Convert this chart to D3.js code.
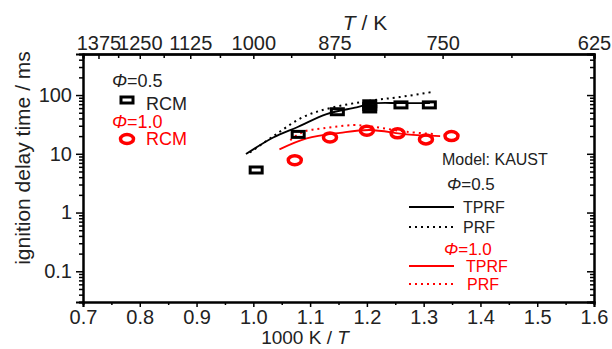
<!DOCTYPE html>
<html lang="en">
<head>
<meta charset="UTF-8">
<title>Ignition delay time vs 1000/T</title>
<style>
    body { margin: 0; background: #fff; }
    svg { display: block; }
    text { font-family: "Liberation Sans Narrow", "Liberation Sans", Arial, sans-serif; fill: #222; }
    .axis line, .axis path { stroke: #000; }
    .red { fill: #ff0000; }
</style>
</head>
<body>
<svg id="chart" width="612" height="349"></svg>
<script src="https://d3js.org/d3.v7.min.js"></script>
<script>
    // bottom axis: 1000 K / T
    const xTicks = [0.7, 0.8, 0.9, 1.0, 1.1, 1.2, 1.3, 1.4, 1.5, 1.6];
    // top axis: T / K
    const tTicks = [1375, 1250, 1125, 1000, 875, 750, 625];
    const tMinor = [1312.5, 1187.5, 1062.5, 937.5, 812.5, 687.5];
    const yTicks = [0.1, 1, 10, 100];

    // RCM measurements (three overlapping points near 1.2 give the solid block)
    const rcm05X = [1.005, 1.079, 1.148, 1.205, 1.205, 1.205, 1.260, 1.310];
    const rcm05Y = [5.3, 21.4, 52, 71, 64, 58, 68, 68];
    const rcm10X = [1.073, 1.135, 1.200, 1.254, 1.304, 1.349];
    const rcm10Y = [7.8, 19, 24.7, 22.3, 17.6, 20];

    // KAUST model
    const tprf05X = [0.987, 1.035, 1.079, 1.129, 1.182, 1.211, 1.258, 1.311];
    const tprf05Y = [9.9, 19, 28.9, 47.5, 61.8, 72, 73, 73];
    const prf05X = [0.994, 1.038, 1.087, 1.135, 1.205, 1.258, 1.316];
    const prf05Y = [10.5, 20.8, 42, 60, 80, 92.5, 113];
    const tprf10X = [1.046, 1.094, 1.153, 1.205, 1.270, 1.329];
    const tprf10Y = [11.9, 18.3, 22.8, 25.4, 21.4, 20];
    const prf10X = [1.065, 1.088, 1.123, 1.176, 1.211, 1.270, 1.317];
    const prf10Y = [17.1, 23.7, 27.1, 30.8, 28.9, 23.7, 21.7];

    const svg = d3.select("#chart");
    const mLeft = 83, mRight = 594, mTop = 54, mBottom = 302;

    const x = d3.scaleLinear().domain([0.7, 1.6]).range([mLeft, mRight]);
    const y = d3.scaleLog().domain([0.03, 500]).range([mBottom, mTop]);

    // minor log ticks
    const yMinor = [];
    [0.01, 0.1, 1, 10, 100].forEach(d => {
        for (let k = 2; k <= 9; k++) {
            const v = d * k;
            if (v >= 0.03 && v <= 500) yMinor.push(v);
        }
    });
    const xMinor = xTicks.slice(0, -1).map(d => d + 0.05);

    // left axis (ticks outward)
    svg.append("g").attr("class", "axis")
        .attr("transform", `translate(${mLeft},0)`)
        .call(d3.axisLeft(y).tickValues(yMinor).tickSize(4).tickFormat(""));
    svg.append("g").attr("class", "axis")
        .attr("transform", `translate(${mLeft},0)`)
        .call(d3.axisLeft(y).tickValues(yTicks).tickSize(7).tickPadding(4)
            .tickFormat(d => d3.format("~g")(d)));
    // right axis (ticks inward)
    svg.append("g").attr("class", "axis")
        .attr("transform", `translate(${mRight},0)`)
        .call(d3.axisLeft(y).tickValues(yMinor).tickSize(4).tickFormat(""));
    svg.append("g").attr("class", "axis")
        .attr("transform", `translate(${mRight},0)`)
        .call(d3.axisLeft(y).tickValues(yTicks).tickSize(7).tickFormat(""));

    // bottom axis
    svg.append("g").attr("class", "axis")
        .attr("transform", `translate(0,${mBottom})`)
        .call(d3.axisBottom(x).tickValues(xMinor).tickSize(3).tickFormat(""));
    svg.append("g").attr("class", "axis")
        .attr("transform", `translate(0,${mBottom})`)
        .call(d3.axisBottom(x).tickValues(xTicks).tickSize(5).tickPadding(3)
            .tickFormat(d3.format(".1f")));

    // top axis, temperature positioned at 1000/T
    svg.append("g").attr("class", "axis")
        .attr("transform", `translate(0,${mTop})`)
        .call(d3.axisBottom(x).tickValues(tMinor.map(t => 1000 / t)).tickSize(4).tickFormat(""));
    svg.append("g").attr("class", "axis")
        .attr("transform", `translate(0,${mTop})`)
        .call(d3.axisTop(x).tickValues(tTicks.map(t => 1000 / t)).tickSize(0).tickPadding(4)
            .tickFormat((d, i) => tTicks[i]));
    svg.append("g").attr("class", "axis")
        .attr("transform", `translate(0,${mTop})`)
        .call(d3.axisBottom(x).tickValues(tTicks.map(t => 1000 / t)).tickSize(5).tickFormat(""));

    svg.selectAll(".axis path").attr("stroke-width", 2);
    svg.selectAll(".axis line").attr("stroke-width", 1.5);
    svg.selectAll(".axis text").attr("font-size", 20)
        .attr("font-family", '"Liberation Sans Narrow", "Liberation Sans", Arial, sans-serif')
        .attr("fill", "#222");

    // axis titles
    svg.append("text").attr("x", 305).attr("y", 344).attr("text-anchor", "middle")
        .attr("font-size", 19).html('1000 K / <tspan font-style="italic">T</tspan>');
    svg.append("text").attr("x", 365).attr("y", 30).attr("text-anchor", "middle")
        .attr("font-size", 21).html('<tspan font-style="italic">T</tspan> / K');
    svg.append("text").attr("transform", "translate(30,158) rotate(-90)")
        .attr("text-anchor", "middle").attr("font-size", 21)
        .text("ignition delay time / ms");

    // model lines
    const line = d3.line().x(d => x(d[0])).y(d => y(d[1])).curve(d3.curveCatmullRom);
    const zip = (a, b) => a.map((v, i) => [v, b[i]]);
    const plot = svg.append("g");
    plot.append("path").attr("d", line(zip(tprf05X, tprf05Y)))
        .attr("fill", "none").attr("stroke", "#000").attr("stroke-width", 1.8);
    plot.append("path").attr("d", line(zip(prf05X, prf05Y)))
        .attr("fill", "none").attr("stroke", "#000").attr("stroke-width", 2)
        .attr("stroke-dasharray", "2,4");
    plot.append("path").attr("d", line(zip(tprf10X, tprf10Y)))
        .attr("fill", "none").attr("stroke", "#ff0000").attr("stroke-width", 1.8);
    plot.append("path").attr("d", line(zip(prf10X, prf10Y)))
        .attr("fill", "none").attr("stroke", "#ff0000").attr("stroke-width", 2)
        .attr("stroke-dasharray", "2,4");

    // markers
    plot.selectAll(".sq").data(zip(rcm05X, rcm05Y)).join("rect")
        .attr("x", d => x(d[0]) - 6).attr("y", d => y(d[1]) - 3)
        .attr("width", 12).attr("height", 6)
        .attr("fill", "none").attr("stroke", "#000").attr("stroke-width", 3);
    plot.selectAll(".ci").data(zip(rcm10X, rcm10Y)).join("ellipse")
        .attr("cx", d => x(d[0])).attr("cy", d => y(d[1]))
        .attr("rx", 6.5).attr("ry", 4.5)
        .attr("fill", "none").attr("stroke", "#ff0000").attr("stroke-width", 3.5);

    // RCM legend
    const leg = svg.append("g");
    leg.append("text").attr("x", 112).attr("y", 87).attr("font-size", 18)
        .html('<tspan font-style="italic">Φ</tspan>=0.5');
    leg.append("rect").attr("x", 121).attr("y", 97).attr("width", 12).attr("height", 6)
        .attr("fill", "none").attr("stroke", "#000").attr("stroke-width", 3);
    leg.append("text").attr("x", 146).attr("y", 110).attr("font-size", 18).text("RCM");
    leg.append("text").attr("x", 112).attr("y", 128).attr("font-size", 18).attr("class", "red")
        .html('<tspan font-style="italic">Φ</tspan>=1.0');
    leg.append("ellipse").attr("cx", 127).attr("cy", 139).attr("rx", 6.5).attr("ry", 4.5)
        .attr("fill", "none").attr("stroke", "#ff0000").attr("stroke-width", 3.5);
    leg.append("text").attr("x", 146).attr("y", 145).attr("font-size", 18).attr("class", "red").text("RCM");

    // model legend
    const ml = svg.append("g");
    ml.append("text").attr("x", 442).attr("y", 165).attr("font-size", 16).text("Model: KAUST");
    ml.append("text").attr("x", 447).attr("y", 190).attr("font-size", 17)
        .html('<tspan font-style="italic">Φ</tspan>=0.5');
    ml.append("line").attr("x1", 409).attr("x2", 454).attr("y1", 207).attr("y2", 207)
        .attr("stroke", "#000").attr("stroke-width", 1.8);
    ml.append("text").attr("x", 463).attr("y", 213).attr("font-size", 16).text("TPRF");
    ml.append("line").attr("x1", 409).attr("x2", 454).attr("y1", 227).attr("y2", 227)
        .attr("stroke", "#000").attr("stroke-width", 2).attr("stroke-dasharray", "2,4");
    ml.append("text").attr("x", 463).attr("y", 233).attr("font-size", 16).text("PRF");
    ml.append("text").attr("x", 444).attr("y", 255).attr("font-size", 17).attr("class", "red")
        .html('<tspan font-style="italic">Φ</tspan>=1.0');
    ml.append("line").attr("x1", 409).attr("x2", 454).attr("y1", 266).attr("y2", 266)
        .attr("stroke", "#ff0000").attr("stroke-width", 1.8);
    ml.append("text").attr("x", 466).attr("y", 272).attr("font-size", 16).attr("class", "red").text("TPRF");
    ml.append("line").attr("x1", 409).attr("x2", 454).attr("y1", 284).attr("y2", 284)
        .attr("stroke", "#ff0000").attr("stroke-width", 2).attr("stroke-dasharray", "2,4");
    ml.append("text").attr("x", 467).attr("y", 290).attr("font-size", 16).attr("class", "red").text("PRF");
</script>
</body>
</html>
